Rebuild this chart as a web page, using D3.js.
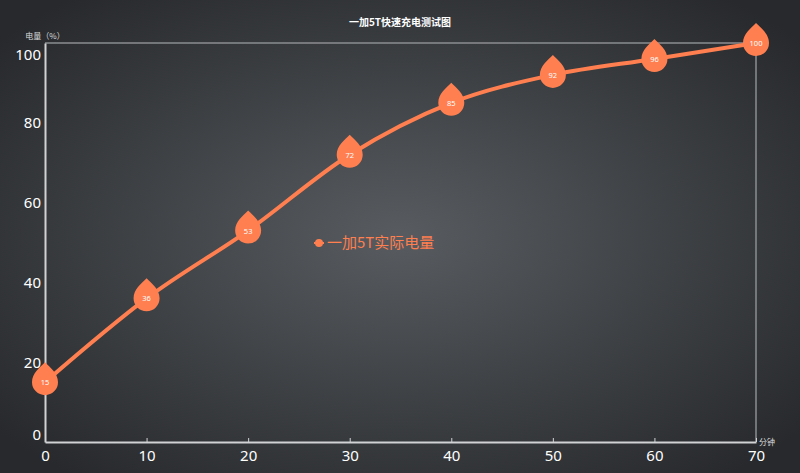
<!DOCTYPE html>
<html>
<head>
<meta charset="utf-8">
<script src="https://cdn.jsdelivr.net/npm/d3@7"></script>
<style>
  html, body { margin: 0; padding: 0; background: #2c2e32; }
  svg { display: block; font-family: "Noto Sans CJK SC", "Noto Sans", sans-serif; }
</style>
</head>
<body>
<div id="chart"></div>
<script>
"use strict"

// data
var minutes = [0, 10, 20, 30, 40, 50, 60, 70];
var charge = [15, 36, 53, 72, 85, 92, 96, 100];
var xTicks = [0, 10, 20, 30, 40, 50, 60, 70];
var yTicks = [0, 20, 40, 60, 80, 100];
var seriesName = "一加5T实际电量";
var titleText = "一加5T快速充电测试图";

var width = 800, height = 473;
var margin = {top: 43, right: 44, bottom: 31, left: 45};
var color = "#ff7f50";

var svg = d3.select("#chart").append("svg")
    .attr("width", width)
    .attr("height", height);

// radial background
var defs = svg.append("defs");
var grad = defs.append("radialGradient")
    .attr("id", "bg")
    .attr("cx", "50%").attr("cy", "50%").attr("r", "65%");
grad.append("stop").attr("offset", "0%").attr("stop-color", "#585c60");
grad.append("stop").attr("offset", "100%").attr("stop-color", "#27292c");
svg.append("rect")
    .attr("width", width).attr("height", height)
    .attr("fill", "url(#bg)");

var x = d3.scaleLinear().domain([0, 70]).range([margin.left, width - margin.right]);
var y = d3.scaleLinear().domain([0, 100]).range([height - margin.bottom, margin.top]);

// grid border (top and right)
svg.append("path")
    .attr("d", "M" + x(0) + "," + y(100) + "H" + x(70) + "V" + y(0))
    .attr("fill", "none")
    .attr("stroke", "#8a8d90")
    .attr("stroke-width", 1.5);

// x axis, small ticks pointing inside
var xAxis = svg.append("g")
    .attr("transform", "translate(0," + y(0) + ")")
    .call(d3.axisBottom(x).tickValues(xTicks).tickSizeInner(-4).tickSizeOuter(0).tickPadding(8));
xAxis.select(".domain").attr("stroke", "#d0d2d4").attr("stroke-width", 2);
xAxis.selectAll(".tick line").attr("stroke", "#d0d2d4");
xAxis.selectAll(".tick text")
    .attr("fill", "#fff")
    .attr("font-size", 15)
    .attr("font-family", "Noto Sans, sans-serif");

// y axis; the end labels are pulled inside the plot height
var yAxis = svg.append("g")
    .attr("transform", "translate(" + x(0) + ",0)")
    .call(d3.axisLeft(y).tickValues(yTicks).tickSize(0).tickPadding(4));
yAxis.select(".domain").attr("stroke", "#d0d2d4").attr("stroke-width", 2);
yAxis.selectAll(".tick text")
    .attr("fill", "#fff")
    .attr("font-size", 15)
    .attr("font-family", "Noto Sans, sans-serif")
    .attr("dy", function(d) { return d == 100 ? "1.1em" : (d == 0 ? "-0.15em" : "0.32em"); });

// axis names
svg.append("text")
    .attr("x", x(0)).attr("y", margin.top - 4)
    .attr("text-anchor", "middle")
    .attr("fill", "#ddd").attr("font-size", 8)
    .text("电量（%）");
svg.append("text")
    .attr("x", x(70) + 3).attr("y", y(0) + 3)
    .attr("fill", "#ddd").attr("font-size", 8)
    .text("分钟");

// title
svg.append("text")
    .attr("x", 400).attr("y", 26)
    .attr("text-anchor", "middle")
    .attr("fill", "#fff").attr("font-size", 10).attr("font-weight", "bold")
    .text(titleText);

// line
var points = minutes.map(function(m, i) { return {m: m, v: charge[i]}; });
var line = d3.line()
    .x(function(d) { return x(d.m); })
    .y(function(d) { return y(d.v); })
    .curve(d3.curveMonotoneX);
svg.append("path")
    .datum(points)
    .attr("d", line)
    .attr("fill", "none")
    .attr("stroke", color)
    .attr("stroke-width", 4);

// pin markers, tip pointing up
var pin = "M0,-20 C5,-15 13,-9 13,0 A13,13 0 1 1 -13,0 C-13,-9 -5,-15 0,-20Z";
var markers = svg.selectAll(".pin")
    .data(points)
    .enter().append("g")
      .attr("class", "pin")
      .attr("transform", function(d) { return "translate(" + x(d.m) + "," + y(d.v) + ")"; });
markers.append("path")
    .attr("d", pin)
    .attr("fill", color);
markers.append("text")
    .attr("y", 3)
    .attr("text-anchor", "middle")
    .attr("fill", "#fff")
    .attr("font-size", 7.5)
    .attr("font-family", "Noto Sans, sans-serif")
    .text(function(d) { return d.v; });

// legend
var legend = svg.append("g").attr("transform", "translate(319,243)");
legend.append("line")
    .attr("x1", -5).attr("x2", 5)
    .attr("stroke", color).attr("stroke-width", 2);
legend.append("circle").attr("r", 4).attr("fill", color);
legend.append("text")
    .attr("x", 8).attr("y", 5)
    .attr("fill", color).attr("font-size", 15)
    .text(seriesName);
</script>
</body>
</html>
